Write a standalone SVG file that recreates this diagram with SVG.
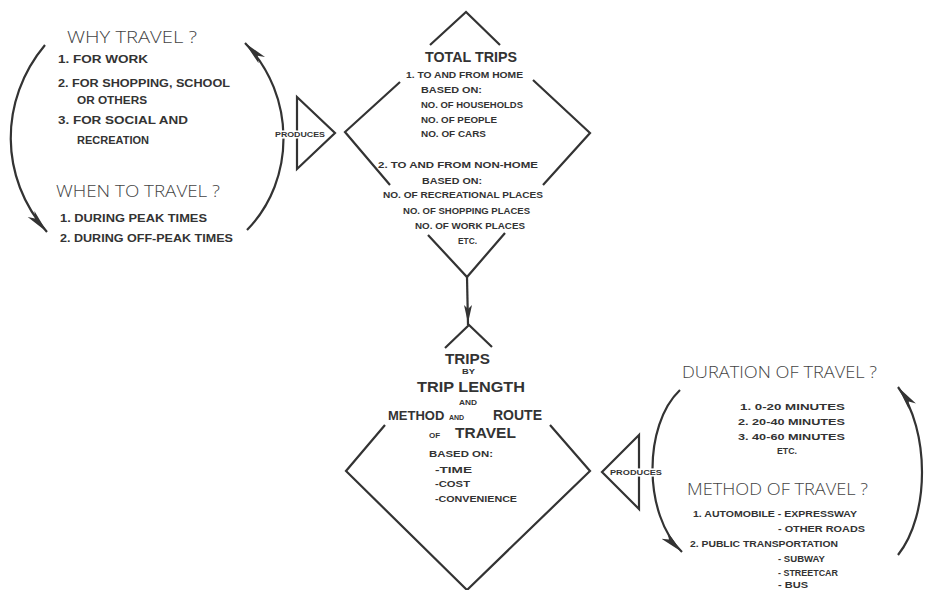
<svg xmlns="http://www.w3.org/2000/svg" width="927" height="590" viewBox="0 0 927 590">
<style>
.ln{fill:none;stroke:#333;stroke-width:2.2;stroke-linejoin:miter}
.arc{fill:none;stroke:#333;stroke-width:2.2}
.h{font-family:"Open Sans","Liberation Sans",sans-serif;font-weight:300;font-size:17px;fill:#444}
.s{font-family:"Liberation Sans",Arial,sans-serif;font-weight:bold;font-size:10px;fill:#333}
.t{font-family:"Liberation Sans",Arial,sans-serif;font-weight:bold;font-size:8.5px;fill:#333}
.big{font-family:"Liberation Sans",Arial,sans-serif;font-weight:bold;font-size:15.5px;fill:#333}
.tiny{font-family:"Liberation Sans",Arial,sans-serif;font-weight:bold;font-size:7.5px;fill:#333}
.halo{stroke:#fff;stroke-width:3;paint-order:stroke}
</style>
<defs>
<marker id="ah" markerUnits="userSpaceOnUse" markerWidth="26" markerHeight="12" refX="24" refY="5" orient="auto" viewBox="0 0 26 10">
<path d="M0,0.5 L24,5 L0,9.5 L6,5 Z" fill="#333"/>
</marker>
</defs>
<rect width="927" height="590" fill="#fff"/>

<g id="connectors">
<path class="arc" d="M45,45 C-1,100 -1,178 47,232" marker-end="url(#ah)"/>
<path class="arc" d="M247,230 C296,180 296,95 245,43" marker-end="url(#ah)"/>
<path class="arc" d="M680,390 C643,425 643,515 682,552" marker-end="url(#ah)"/>
<path class="arc" d="M898,555 C930,515 930,430 898,387" marker-end="url(#ah)"/>
<line class="ln" x1="467" y1="277" x2="468" y2="325"/>
<path d="M464,305 L468,323 L472,305 L468,309 Z" fill="#333"/>
</g>

<g id="why-travel">
<text class="h" x="67" y="43" textLength="130" lengthAdjust="spacingAndGlyphs">WHY TRAVEL ?</text>
<text class="s" x="58" y="63" textLength="90" lengthAdjust="spacingAndGlyphs">1. FOR WORK</text>
<text class="s" x="58" y="87" textLength="172" lengthAdjust="spacingAndGlyphs">2. FOR SHOPPING, SCHOOL</text>
<text class="s" x="77" y="104" textLength="70" lengthAdjust="spacingAndGlyphs">OR OTHERS</text>
<text class="s" x="58" y="124" textLength="130" lengthAdjust="spacingAndGlyphs">3. FOR SOCIAL AND</text>
<text class="s" x="77" y="144" textLength="72" lengthAdjust="spacingAndGlyphs">RECREATION</text>
<text class="h" x="56" y="197" textLength="164" lengthAdjust="spacingAndGlyphs">WHEN TO TRAVEL ?</text>
<text class="s" x="60" y="222" textLength="147" lengthAdjust="spacingAndGlyphs">1. DURING PEAK TIMES</text>
<text class="s" x="60" y="242" textLength="173" lengthAdjust="spacingAndGlyphs">2. DURING OFF-PEAK TIMES</text>
</g>

<g id="produces-1">
<path class="ln" d="M297,97 L335,133 L297,169 Z"/>
<text class="tiny halo" x="275" y="136.5" textLength="50" lengthAdjust="spacingAndGlyphs">PRODUCES</text>
</g>

<g id="total-trips">
<path class="ln" d="M430,45 L466,12 L500,45 M400,82 L345,132 L390,185 M533,80 L590,133 L543,185 M428,235 L467,277 L505,233"/>
<text class="big" x="425" y="62" textLength="92" lengthAdjust="spacingAndGlyphs" style="font-size:15px">TOTAL TRIPS</text>
<text class="t" x="406" y="78" textLength="117" lengthAdjust="spacingAndGlyphs">1. TO AND FROM HOME</text>
<text class="t" x="421" y="93" textLength="61" lengthAdjust="spacingAndGlyphs">BASED ON:</text>
<text class="t" x="421" y="108" textLength="102" lengthAdjust="spacingAndGlyphs">NO. OF HOUSEHOLDS</text>
<text class="t" x="421" y="123" textLength="76" lengthAdjust="spacingAndGlyphs">NO. OF PEOPLE</text>
<text class="t" x="421" y="137" textLength="65" lengthAdjust="spacingAndGlyphs">NO. OF CARS</text>
<text class="t" x="378" y="168" textLength="160" lengthAdjust="spacingAndGlyphs">2. TO AND FROM NON-HOME</text>
<text class="t" x="422" y="184" textLength="60" lengthAdjust="spacingAndGlyphs">BASED ON:</text>
<text class="t" x="383" y="198" textLength="160" lengthAdjust="spacingAndGlyphs">NO. OF RECREATIONAL PLACES</text>
<text class="t" x="403" y="214" textLength="127" lengthAdjust="spacingAndGlyphs">NO. OF SHOPPING PLACES</text>
<text class="t" x="415" y="229" textLength="110" lengthAdjust="spacingAndGlyphs">NO. OF WORK PLACES</text>
<text class="t" x="458" y="244" textLength="19" lengthAdjust="spacingAndGlyphs">ETC.</text>
</g>

<g id="trips-by-length">
<path class="ln" d="M445,348 L469,325 L492,347 M385,425 L346,471 L467,590 L590,471 L550,425"/>
<text class="big" x="445" y="364" textLength="45" lengthAdjust="spacingAndGlyphs" style="font-size:14px">TRIPS</text>
<text class="tiny" x="462" y="374" textLength="13" lengthAdjust="spacingAndGlyphs" style="font-size:6.5px">BY</text>
<text class="big" x="417" y="392" textLength="108" lengthAdjust="spacingAndGlyphs">TRIP LENGTH</text>
<text class="tiny" x="459" y="405" textLength="18" lengthAdjust="spacingAndGlyphs" style="font-size:6.5px">AND</text>
<text class="big" y="420"><tspan x="388" style="font-size:13px">METHOD</tspan><tspan x="449" style="font-size:7px">AND</tspan><tspan x="493" style="font-size:14px">ROUTE</tspan></text>
<text class="big" y="438"><tspan x="429" style="font-size:8px">OF</tspan><tspan x="455">TRAVEL</tspan></text>
<text class="t" x="429" y="457" textLength="64" lengthAdjust="spacingAndGlyphs" style="font-size:9px">BASED ON:</text>
<text class="t" x="435" y="473" textLength="37" lengthAdjust="spacingAndGlyphs" style="font-size:9px">-TIME</text>
<text class="t" x="435" y="487" textLength="35" lengthAdjust="spacingAndGlyphs" style="font-size:9px">-COST</text>
<text class="t" x="435" y="502" textLength="82" lengthAdjust="spacingAndGlyphs" style="font-size:9px">-CONVENIENCE</text>
</g>

<g id="produces-2">
<path class="ln" d="M639,435 L602,472 L639,509 Z"/>
<text class="tiny halo" x="610" y="475" textLength="52" lengthAdjust="spacingAndGlyphs">PRODUCES</text>
</g>

<g id="duration-method">
<text class="h" x="682" y="378" textLength="195" lengthAdjust="spacingAndGlyphs">DURATION OF TRAVEL ?</text>
<text class="t" x="740" y="410" textLength="105" lengthAdjust="spacingAndGlyphs">1. 0-20 MINUTES</text>
<text class="t" x="738" y="425" textLength="107" lengthAdjust="spacingAndGlyphs">2. 20-40 MINUTES</text>
<text class="t" x="738" y="440" textLength="107" lengthAdjust="spacingAndGlyphs">3. 40-60 MINUTES</text>
<text class="t" x="777" y="454" textLength="20" lengthAdjust="spacingAndGlyphs">ETC.</text>
<text class="h" x="687" y="495" textLength="181" lengthAdjust="spacingAndGlyphs">METHOD OF TRAVEL ?</text>
<text class="t" x="693" y="517" textLength="164" lengthAdjust="spacingAndGlyphs">1. AUTOMOBILE - EXPRESSWAY</text>
<text class="t" x="778" y="532" textLength="87" lengthAdjust="spacingAndGlyphs">- OTHER ROADS</text>
<text class="t" x="690" y="547" textLength="148" lengthAdjust="spacingAndGlyphs">2. PUBLIC TRANSPORTATION</text>
<text class="t" x="778" y="562" textLength="47" lengthAdjust="spacingAndGlyphs">- SUBWAY</text>
<text class="t" x="778" y="576" textLength="60" lengthAdjust="spacingAndGlyphs">- STREETCAR</text>
<text class="t" x="778" y="588" textLength="30" lengthAdjust="spacingAndGlyphs">- BUS</text>
</g>
</svg>
